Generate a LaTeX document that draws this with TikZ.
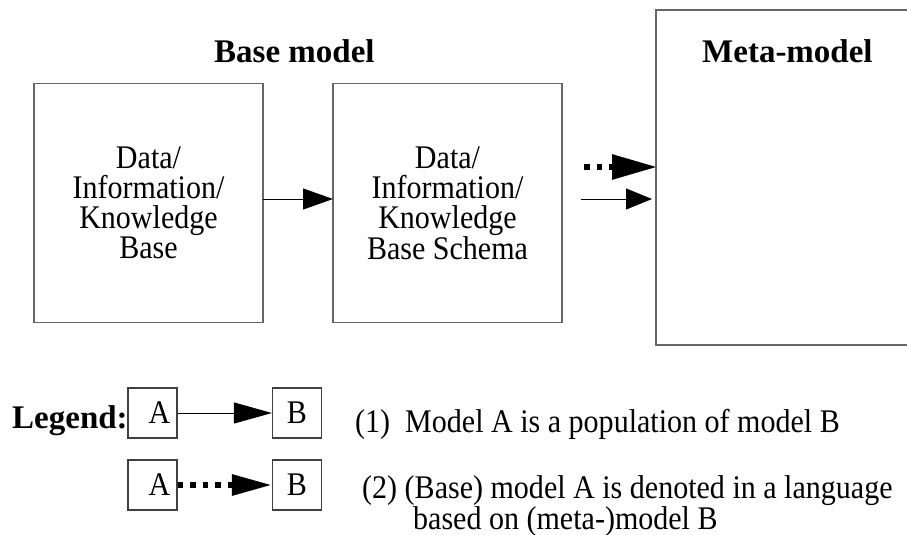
\documentclass[tikz,border=0pt]{standalone}
\usepackage{fontspec}
\usepackage{graphicx}
\setmainfont{Liberation Serif}
\usetikzlibrary{arrows.meta,calc}
\newcommand{\narrowtxt}[1]{\scalebox{0.91}[1]{#1}}
\begin{document}
\begin{tikzpicture}[x=1pt,y=-1pt,
  txt/.style={font=\fontsize{33}{30}\selectfont},
  ttl/.style={font=\fontsize{33}{33}\selectfont\bfseries, anchor=base west, inner sep=0pt},
  bigbox/.style={draw=black!60, line width=1.5pt, minimum width=229pt, minimum height=239pt, inner sep=0pt, align=center, txt},
  metabox/.style={draw=black!60, line width=1.5pt, minimum width=264pt, minimum height=335pt, inner sep=0pt},
  lbox/.style={draw=black!75, line width=1.2pt, minimum width=49pt, minimum height=50pt, inner sep=0pt, txt},
  dotarrow/.style={line width=6pt, dash pattern=on 5.5pt off 7pt, line cap=butt},
  ltext/.style={txt, anchor=base west, inner sep=0pt}
]
\clip (0,0) rectangle (907,535);
\fill[white] (0,0) rectangle (907,535);

% titles
\node[ttl] (tbase) at (214,63) {Base model};
\node[ttl] (tmeta) at (702,63) {Meta-model};

% main boxes
\node[bigbox] (b1) at (148.5,203) {\narrowtxt{Data/}\\\narrowtxt{Information/}\\\narrowtxt{Knowledge}\\\narrowtxt{Base}};
\node[bigbox] (b2) at (447.5,203) {\narrowtxt{Data/}\\\narrowtxt{Information/}\\\narrowtxt{Knowledge}\\\narrowtxt{Base Schema}};
\node[metabox] (meta) at (788,177.5) {};

% arrows between main boxes
\coordinate (a1s) at (263,199);
\coordinate (a1e) at (333,199);
\draw[line width=1pt, -{Triangle[length=30pt,width=21pt]}] (a1s) -- (a1e);

\coordinate (dms) at (584,167);
\coordinate (dme) at (657,167);
\draw[dotarrow, -{Triangle[length=45pt,width=24pt]}] (dms) -- (dme);

\coordinate (sms) at (581,199);
\coordinate (sme) at (652,199);
\draw[line width=1pt, -{Triangle[length=26pt,width=21pt]}] (sms) -- (sme);

% legend
\node[ttl] (leg) at (12,428) {Legend:};
\node[lbox] (la1) at (152.5,413) {\hspace{14pt}\narrowtxt{A}};
\node[lbox] (lb1) at (297,413) {\narrowtxt{B}};
\node[lbox] (la2) at (152.5,485) {\hspace{14pt}\narrowtxt{A}};
\node[lbox] (lb2) at (297,485) {\narrowtxt{B}};
\draw[line width=1pt, -{Triangle[length=38pt,width=21pt]}] (la1.east) -- (lb1.west);
\draw[dotarrow, -{Triangle[length=40pt,width=20pt]}] (la2.east) -- (lb2.west);

\node[ltext] (t1) at (355,432) {\narrowtxt{(1)\ \ Model A is a population of model B}};
\node[ltext] (t2) at (362,498) {\narrowtxt{(2) (Base) model A is denoted in a language}};
\node[ltext] (t3) at (413,529) {\narrowtxt{based on (meta-)model B}};
\end{tikzpicture}
\end{document}
